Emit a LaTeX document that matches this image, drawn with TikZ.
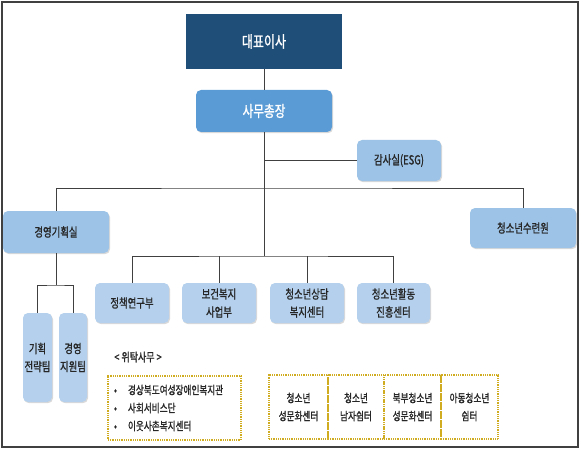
\documentclass[tikz,border=0pt]{standalone}
\usepackage{fontspec}
\newfontfamily\krfont[FakeStretch=0.75,FakeBold=1.2]{Noto Sans CJK KR}
\usetikzlibrary{shadows}
\definecolor{navy}{HTML}{1F4E79}
\definecolor{midblue}{HTML}{5B9BD5}
\definecolor{softblue}{HTML}{9DC3E6}
\definecolor{paleblue}{HTML}{B4D0EC}
\definecolor{linegray}{HTML}{404040}
\definecolor{dotgold}{HTML}{D0AC20}

\begin{document}
\begin{tikzpicture}[x=1pt,y=-1pt,font=\krfont,
  box/.style={rounded corners=5pt,align=center,inner sep=0pt,text=black!85,
    drop shadow={shadow xshift=1pt,shadow yshift=-1.2pt,opacity=.3}},
  unit/.style={box,fill=softblue,font=\krfont\fontsize{12.5}{15}\selectfont},
  dept/.style={box,fill=paleblue,minimum width=74pt,minimum height=40pt,
    font=\krfont\fontsize{12.5}{18}\selectfont},
  team/.style={dept,minimum height=89pt},
  dotbox/.style={draw=dotgold,line width=1.1pt,dash pattern=on .9pt off .9pt,
    minimum height=64pt,inner sep=0pt,text=black!85,
    font=\krfont\fontsize{11.5}{18}\selectfont},
  link/.style={draw=linegray,line width=.9pt}]
  \useasboundingbox (0,0) rectangle (580,449);
  \draw[linegray,line width=1.2pt] (2,2) rectangle (578,447);

  \node[fill=navy,text=white,minimum width=156pt,minimum height=55pt,inner sep=0pt,
    font=\krfont\fontsize{16}{19}\selectfont] (ceo) at (264,41.5) {대표이사};
  \node[box,fill=midblue,text=white,minimum width=136pt,minimum height=42pt,
    font=\krfont\fontsize{15.5}{18}\selectfont] (gensec) at (264,111) {사무총장};
  \node[unit,minimum width=84pt,minimum height=41pt] (audit) at (399,160.5) {감사실(ESG)};
  \node[unit,minimum width=106pt,minimum height=42pt] (mgmt) at (56,232) {경영기획실};
  \node[unit,minimum width=106pt,minimum height=40pt] (camp) at (523,228) {청소년수련원};

  \node[dept] (policy) at (132,303) {정책연구부};
  \node[dept] (health) at (219,303) {보건복지\\사업부};
  \node[dept] (counsel) at (307,303) {청소년상담\\복지센터};
  \node[dept,minimum width=73pt] (activity) at (393.5,303) {청소년활동\\진흥센터};

  \node[team,minimum width=29pt] (strat) at (37.5,357.5) {기획\\전략팀};
  \node[team,minimum width=28pt] (support) at (73,357.5) {경영\\지원팀};

  \coordinate (trunk) at (264,188);
  \coordinate (deptbus) at (264,256);
  \coordinate (teambus) at (56,285);

  \draw[link] (ceo) -- (gensec);
  \draw[link] (gensec) -- (deptbus);
  \draw[link] (gensec |- audit) -- (audit);
  \draw[link] (mgmt.north) |- (trunk) -| (camp.north);
  \draw[link] (policy.north) |- (deptbus) -| (activity.north);
  \draw[link] (health.north) -- (health.north |- deptbus);
  \draw[link] (counsel.north) -- (counsel.north |- deptbus);
  \draw[link] (mgmt.south) -- (teambus);
  \draw[link] (strat.north) |- (teambus) -| (support.north);

  % entrusted facilities
  \node[text=black!85,font=\krfont\fontsize{12}{14}\selectfont] (outsrc) at (138,357) {< 위탁사무 >};
  \node[dotbox,minimum width=133pt,text width=121pt,inner xsep=6pt,align=left] (agencies) at (174.5,408)
    {\makebox[14pt][l]{•}경상북도여성장애인복지관\\
     \makebox[14pt][l]{•}사회서비스단\\
     \makebox[14pt][l]{•}이웃사촌복지센터};
  \node[dotbox,minimum width=59pt,align=center] (cell1) at (298.5,407) {청소년\\성문화센터};
  \node[dotbox,minimum width=56pt,align=center] (cell2) at (356,407) {청소년\\남자쉼터};
  \node[dotbox,minimum width=57pt,align=center] (cell3) at (412.5,407) {북부청소년\\성문화센터};
  \node[dotbox,minimum width=57pt,align=center] (cell4) at (469.5,407) {아동청소년\\쉼터};
\end{tikzpicture}
\end{document}
